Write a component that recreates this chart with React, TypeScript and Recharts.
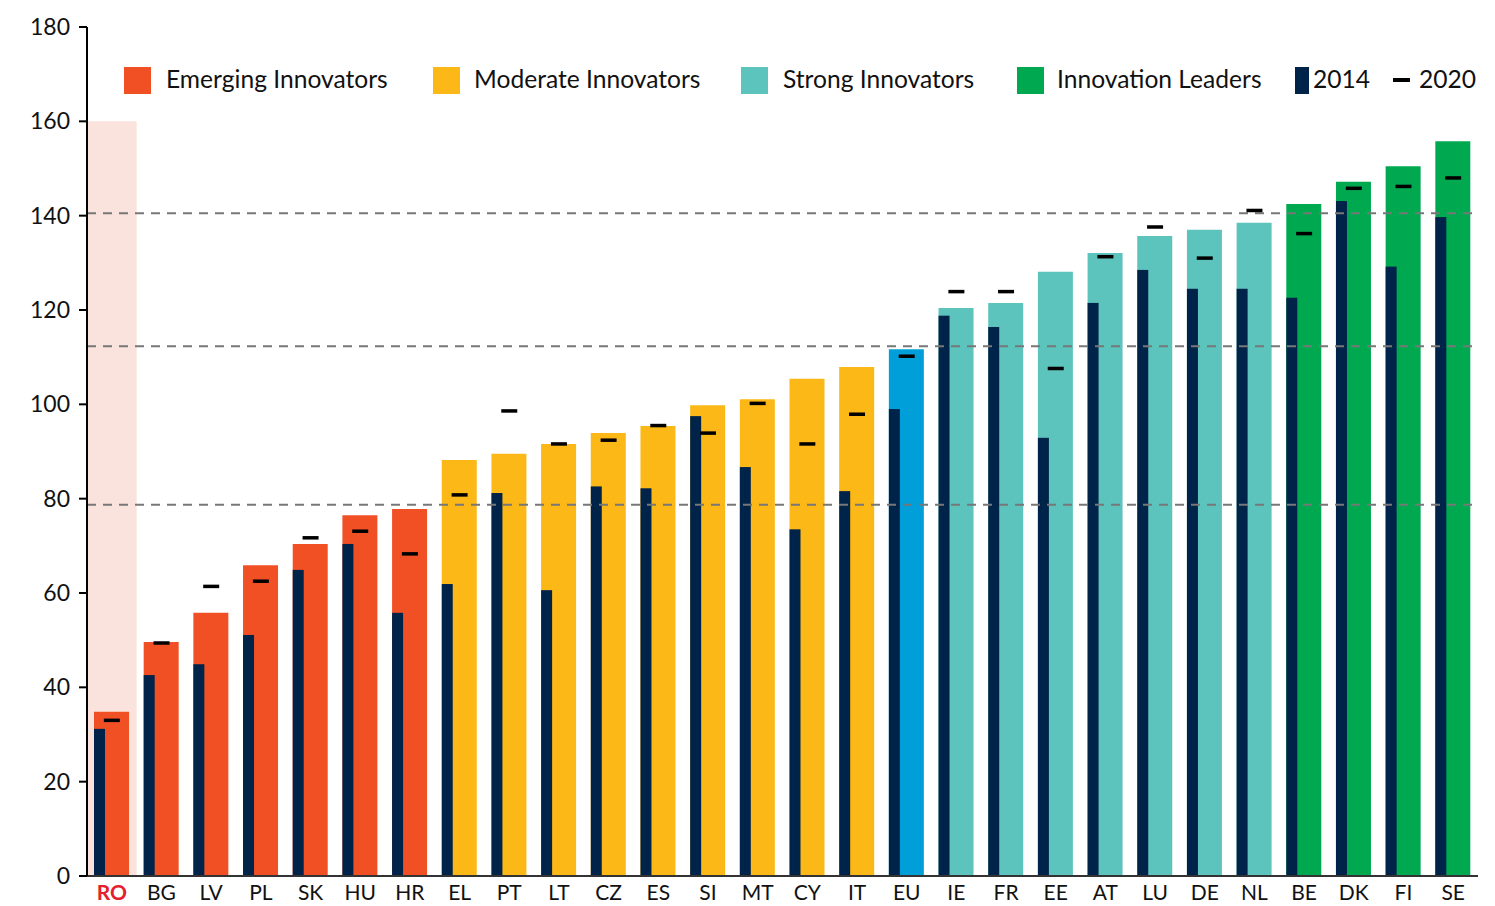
import React from 'react';
import {
  ComposedChart,
  Bar,
  XAxis,
  YAxis,
  Scatter,
  Cell,
  ReferenceLine,
  ReferenceArea,
  Legend,
} from 'recharts';

// ---------------- DATA ----------------
const countries = [
  'RO', 'BG', 'LV', 'PL', 'SK', 'HU', 'HR',
  'EL', 'PT', 'LT', 'CZ', 'ES', 'SI', 'MT', 'CY', 'IT',
  'EU',
  'IE', 'FR', 'EE', 'AT', 'LU', 'DE', 'NL',
  'BE', 'DK', 'FI', 'SE',
];

const groups = [
  'emerging', 'emerging', 'emerging', 'emerging', 'emerging', 'emerging', 'emerging',
  'moderate', 'moderate', 'moderate', 'moderate', 'moderate', 'moderate', 'moderate', 'moderate', 'moderate',
  'eu',
  'strong', 'strong', 'strong', 'strong', 'strong', 'strong', 'strong',
  'leader', 'leader', 'leader', 'leader',
];

const score2021 = [
  34.8, 49.6, 55.8, 65.9, 70.4, 76.5, 77.8,
  88.2, 89.5, 91.6, 93.9, 95.4, 99.8, 101.1, 105.4, 107.9,
  111.7,
  120.4, 121.5, 128.1, 132.1, 135.7, 137.0, 138.5,
  142.5, 147.2, 150.5, 155.8,
];

const score2014 = [
  31.2, 42.6, 44.9, 51.1, 64.9, 70.4, 55.8,
  61.9, 81.2, 60.6, 82.6, 82.2, 97.5, 86.7, 73.5, 81.6,
  99.0,
  118.8, 116.4, 92.9, 121.5, 128.5, 124.5, 124.5,
  122.6, 143.1, 129.2, 139.7,
];

const score2020 = [
  33.0, 49.4, 61.4, 62.5, 71.7, 73.1, 68.3,
  80.8, 98.6, 91.6, 92.4, 95.5, 93.9, 100.2, 91.6, 97.9,
  110.2,
  123.9, 123.9, 107.6, 131.3, 137.6, 131.0, 141.1,
  136.2, 145.8, 146.2, 148.0,
];

const yTicks = [0, 20, 40, 60, 80, 100, 120, 140, 160, 180];
const thresholds = [78.7, 112.3, 140.5];
const highlightCountry = 'RO';
const highlightTop = 160;

const legendLabels = [
  'Emerging Innovators',
  'Moderate Innovators',
  'Strong Innovators',
  'Innovation Leaders',
  '2014',
  '2020',
];
const legendKinds = ['emerging', 'moderate', 'strong', 'leader', 'y2014', 'y2020'];

// ---------------- STYLES ----------------
const groupColors: Record<string, string> = {
  emerging: '#F15025',
  moderate: '#FBB817',
  eu: '#009FDA',
  strong: '#5CC4BC',
  leader: '#00A94F',
  y2014: '#00234A',
  y2020: '#000000',
};
const DARK = '#00234A';
const FONT = 'Lato, "Open Sans", sans-serif';
const MAIN_W = 35;
const DARK_W = 11;

// legend layout (left of swatch, left of text, swatch size)
const legendLayout = [
  { sx: 124, tx: 166, w: 27, h: 27 },
  { sx: 433, tx: 474, w: 27, h: 27 },
  { sx: 741, tx: 783, w: 27, h: 27 },
  { sx: 1017, tx: 1057, w: 27, h: 27 },
  { sx: 1295, tx: 1313, w: 14, h: 27 },
  { sx: 1393, tx: 1419, w: 17, h: 4 },
];

const data = countries.map((c, i) => ({
  country: c,
  group: groups[i],
  current: score2021[i],
  y2014: score2014[i],
  y2020: score2020[i],
}));

const DarkBar = (props: any) => {
  const { x, y, width, height } = props;
  if (height <= 0) return null;
  const cx = x + width / 2;
  return <rect x={cx - MAIN_W / 2} y={y} width={width} height={height} fill={DARK} />;
};

const Dash = (props: any) => {
  const { cx, cy } = props;
  return <rect x={cx - 8} y={cy - 1.75} width={16} height={3.5} fill="#000" />;
};

const XTick = (props: any) => {
  const { x, y, payload } = props;
  const hl = payload.value === highlightCountry;
  return (
    <text
      x={x}
      y={y}
      dy="0.71em"
      textAnchor="middle"
      fill={hl ? '#E5202E' : '#111'}
      fontWeight={hl ? 700 : 400}
      fontSize={21}
      fontFamily={FONT}
    >
      {payload.value}
    </text>
  );
};

const renderLegend = () => (
  <div style={{ position: 'relative', width: 1495, height: 110, fontFamily: FONT, fontSize: 24.6, color: '#111' }}>
    {legendLabels.map((label, i) => {
      const l = legendLayout[i];
      return (
        <React.Fragment key={label}>
          <div
            style={{
              position: 'absolute',
              left: l.sx,
              top: 80 - l.h / 2,
              width: l.w,
              height: l.h,
              background: groupColors[legendKinds[i]],
            }}
          />
          <div style={{ position: 'absolute', left: l.tx, top: 64, lineHeight: '30px', whiteSpace: 'nowrap' }}>
            {label}
          </div>
        </React.Fragment>
      );
    })}
  </div>
);

export default function App() {
  return (
    <div style={{ position: 'absolute', left: 0, top: 0, width: 1495, height: 906, background: '#fff' }}>
      <ComposedChart
        width={1495}
        height={906}
        data={data}
        margin={{ top: 27, right: 17, bottom: 0, left: 0 }}
      >
        <XAxis
          xAxisId="main"
          dataKey="country"
          type="category"
          height={30}
          tick={<XTick />}
          tickLine={false}
          tickSize={8}
          tickMargin={1}
          axisLine={{ stroke: '#333', strokeWidth: 2 }}
          interval={0}
        />
        <XAxis xAxisId="dark" dataKey="country" type="category" height={0} hide />
        <YAxis
          domain={[0, 180]}
          ticks={yTicks}
          width={87}
          interval={0}
          axisLine={{ stroke: '#000', strokeWidth: 2 }}
          tickLine={{ stroke: '#000', strokeWidth: 2 }}
          tickSize={8}
          tickMargin={9}
          tick={{ fontSize: 23, fontFamily: FONT, fill: '#111' }}
        />
        <ReferenceArea
          xAxisId="main"
          x1={highlightCountry}
          x2={highlightCountry}
          y1={0}
          y2={highlightTop}
          fill="#FBE3DD"
          fillOpacity={1}
          stroke="none"
        />
        <Bar xAxisId="main" dataKey="current" barSize={MAIN_W} isAnimationActive={false}>
          {data.map((d) => (
            <Cell key={d.country} fill={groupColors[d.group]} />
          ))}
        </Bar>
        <Bar
          xAxisId="dark"
          dataKey="y2014"
          barSize={DARK_W}
          fill={DARK}
          shape={<DarkBar />}
          isAnimationActive={false}
        />
        {thresholds.map((t) => (
          <ReferenceLine
            key={t}
            xAxisId="main"
            y={t}
            stroke="#777"
            strokeWidth={2}
            strokeDasharray="9 7"
          />
        ))}
        <Scatter xAxisId="main" dataKey="y2020" shape={<Dash />} isAnimationActive={false} />
        <Legend
          layout="vertical"
          align="center"
          verticalAlign="middle"
          content={renderLegend}
          wrapperStyle={{ top: 0, left: 0, width: 1495, height: 110 }}
        />
      </ComposedChart>
    </div>
  );
}
